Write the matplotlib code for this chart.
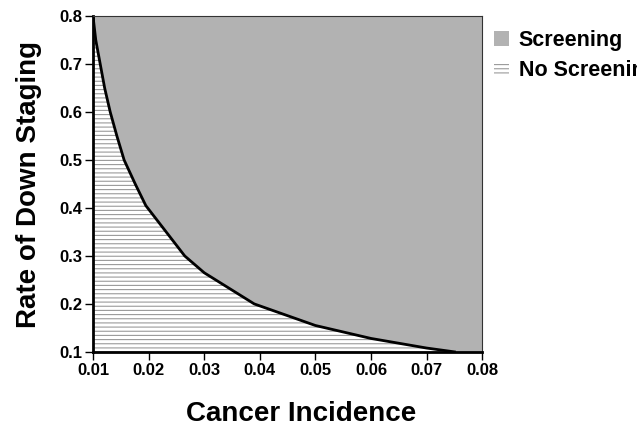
import matplotlib.pyplot as plt
from matplotlib.patches import Patch

plt.rcParams['font.family'] = ['Liberation Sans', 'DejaVu Sans']
plt.rcParams['hatch.linewidth'] = 0.8
plt.rcParams['hatch.color'] = '#9a9a9a'

# Frontière entre les deux stratégies
incidence = [0.010, 0.0105, 0.0113, 0.0121, 0.0131, 0.0143, 0.0156, 0.0176, 0.0195,
             0.0265, 0.030, 0.039, 0.050, 0.060, 0.070, 0.075]
rate = [0.80, 0.75, 0.70, 0.65, 0.60, 0.55, 0.50, 0.45, 0.405,
        0.30, 0.265, 0.20, 0.155, 0.128, 0.108, 0.100]

x_ticks = [0.01, 0.02, 0.03, 0.04, 0.05, 0.06, 0.07, 0.08]
y_ticks = [0.1, 0.2, 0.3, 0.4, 0.5, 0.6, 0.7, 0.8]
gray = '#b2b2b2'

fig = plt.figure(figsize=(6.37, 4.26), dpi=100)
ax = fig.add_axes([0.146, 0.174, 0.611, 0.788])
ax.set_facecolor(gray)

# zone "No Screening" hachurée sous la courbe
ax.fill_between(incidence, 0.1, rate, facecolor='white', edgecolor='#9a9a9a',
                hatch='----', linewidth=0)
ax.plot(incidence, rate, color='black', linewidth=2)

ax.set_xlim(0.01, 0.08)
ax.set_ylim(0.1, 0.8)
ax.set_xticks(x_ticks)
ax.set_yticks(y_ticks)
ax.set_xticklabels([f'{v:.2f}' for v in x_ticks], fontweight='bold', fontsize=12)
ax.set_yticklabels([f'{v:.1f}' for v in y_ticks], fontweight='bold', fontsize=12)
ax.tick_params(direction='out', length=6, width=1, pad=2)

for s in ['left', 'bottom']:
    ax.spines[s].set_linewidth(2)
for s in ['top', 'right']:
    ax.spines[s].set_linewidth(0.8)
    ax.spines[s].set_color('#333333')

ax.set_xlabel('Cancer Incidence', fontsize=20, fontweight='bold')
ax.xaxis.set_label_coords(0.535, -0.145)
ax.set_ylabel('Rate of Down Staging', fontsize=20, fontweight='bold', labelpad=12)

handles = [Patch(facecolor=gray, edgecolor='none', label='Screening'),
           Patch(facecolor='white', edgecolor='#9a9a9a', hatch='----', linewidth=0, label='No Screening')]
leg = fig.legend(handles=handles, loc='upper left', bbox_to_anchor=(0.745, 0.975),
                 frameon=False, prop={'weight': 'bold', 'size': 15.5},
                 handlelength=0.7, handleheight=0.7, handletextpad=0.45, labelspacing=0.42)

plt.savefig('out.png', dpi=100)
